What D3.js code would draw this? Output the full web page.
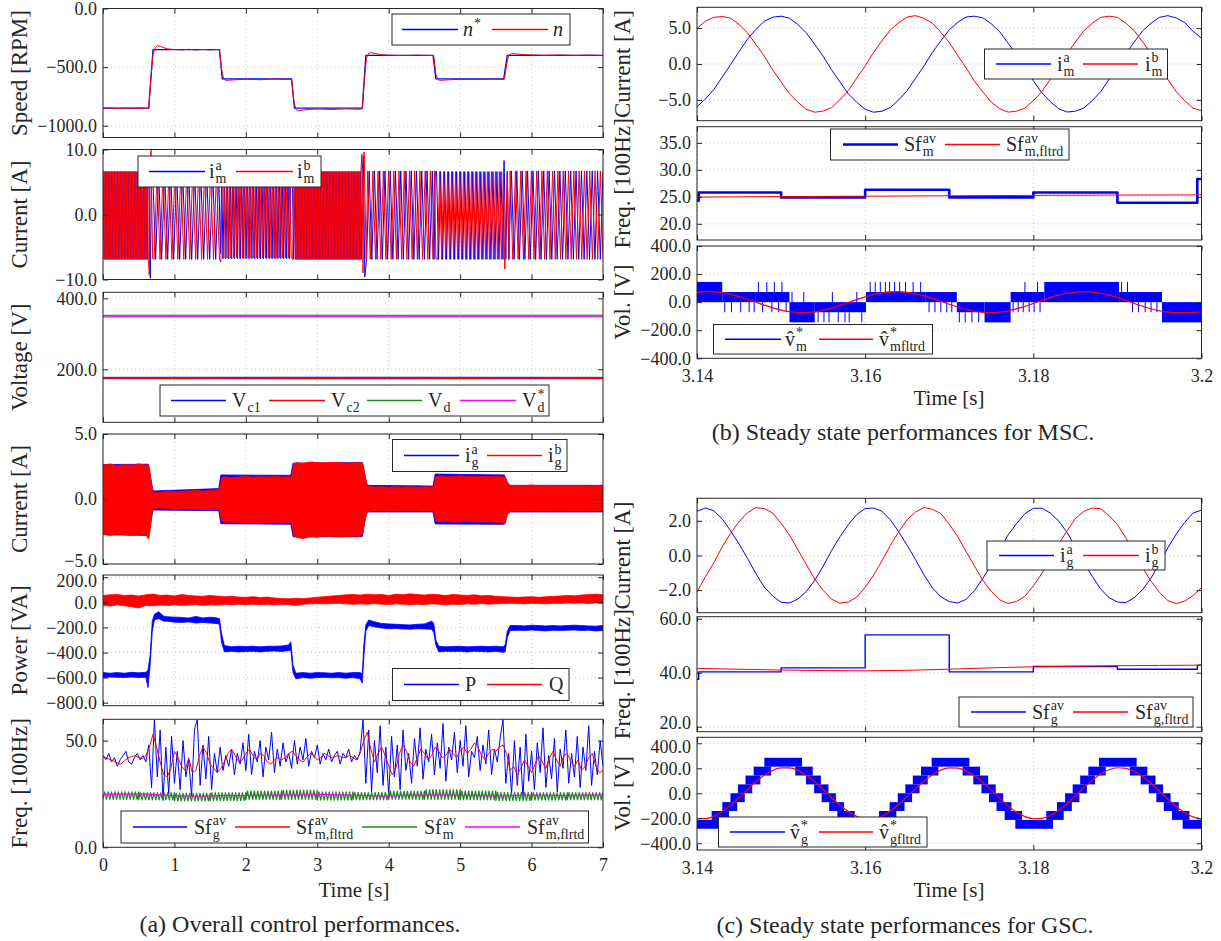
<!DOCTYPE html>
<html>
<head>
<meta charset="utf-8">
<script src="https://cdn.jsdelivr.net/npm/d3@7"></script>
<style>
  body { margin: 0; background: #fff; }
  svg { display: block; }
</style>
</head>
<body>
<svg id="fig" width="1221" height="941"></svg>
<script>
// ================= (a) overall control performances, 0 – 7 s =================
const timeTicksA = [0, 1, 2, 3, 4, 5, 6, 7];

// speed reference n* and measured speed n [RPM]
const speedRef = [[0,-850],[0.64,-850],[0.70,-350],[1.63,-350],[1.67,-600],[2.64,-600],[2.68,-850],
  [3.63,-850],[3.68,-400],[4.62,-400],[4.66,-600],[5.61,-600],[5.66,-400],[7,-400]];
const speedMeas = [[0,-850],[0.1,-847],[0.2,-853],[0.3,-848],[0.4,-852],[0.5,-847],[0.6,-851],[0.64,-850],
  [0.67,-600],[0.70,-390],[0.73,-335],[0.76,-318],[0.80,-322],[0.85,-334],[0.9,-344],[1.0,-350],[1.1,-353],
  [1.2,-348],[1.3,-354],[1.4,-349],[1.5,-353],[1.6,-350],[1.63,-352],[1.66,-520],[1.69,-602],[1.72,-613],
  [1.78,-611],[1.9,-606],[2.0,-603],[2.2,-607],[2.4,-602],[2.6,-605],[2.64,-604],[2.67,-780],[2.70,-862],
  [2.74,-873],[2.8,-866],[2.9,-860],[3.0,-857],[3.2,-861],[3.4,-856],[3.6,-859],[3.63,-855],[3.66,-600],
  [3.69,-420],[3.72,-382],[3.76,-377],[3.82,-386],[3.9,-394],[4.0,-398],[4.2,-401],[4.4,-398],[4.6,-401],
  [4.63,-402],[4.66,-560],[4.69,-606],[4.72,-613],[4.8,-610],[4.9,-606],[5.0,-604],[5.2,-606],[5.4,-603],
  [5.6,-605],[5.62,-602],[5.65,-480],[5.68,-398],[5.72,-384],[5.78,-387],[5.9,-393],[6.0,-396],[6.2,-399],
  [6.4,-396],[6.6,-400],[6.8,-397],[7.0,-400]];

// machine phase currents [A]: oscillation segments [t0, t1, first peak, second peak, peak count]
const imSegA = [[0.000,0.630,-6.9,6.6,60],[0.695,1.620,6.6,-6.9,23],[1.680,2.630,-6.8,6.5,48],
  [2.690,3.615,6.6,-6.9,90],[3.690,4.610,-6.9,6.7,26],[4.670,5.600,6.6,-6.9,34],[5.680,7.000,-6.9,6.7,36]];
const imSegB = [[0.006,0.635,6.6,-6.9,60],[0.715,1.630,-6.9,6.6,23],[1.690,2.635,6.5,-6.7,48],
  [2.696,3.610,-6.9,6.6,90],[3.705,4.620,6.7,-6.9,26],[4.685,5.605,-6.9,6.6,34],[5.700,7.000,6.7,-6.9,36]];
// transient peaks at the speed steps
const imSpikeA = [[0.645,6.4],[0.662,-9.8],[0.680,6.5],[1.645,-6.0],[1.662,6.4],[2.650,6.5],[2.670,-6.9],
  [3.630,6.8],[3.645,9.0],[3.665,-9.6],[4.635,-6.9],[4.652,6.6],[5.615,8.3],[5.640,-6.9],[5.660,6.6]];
const imSpikeB = [[0.648,-9.3],[0.658,6.0],[0.672,9.9],[0.695,-6.8],[1.650,-7.3],[1.670,6.2],[2.655,-6.9],
  [2.675,6.6],[3.625,9.3],[3.640,-9.0],[3.655,9.6],[3.685,-6.9],[4.640,6.7],[4.660,-6.8],[5.625,-8.4],
  [5.660,6.6],[5.685,-6.9]];

// dc-link voltages [V]
const vc1Band = [[0,173.5,177.5],[3.5,173.2,177.8],[7,173.5,177.4]];
const vc2Line = [[0,175.4],[1,175.1],[2,175.6],[3,175.3],[4,175.6],[5,175.2],[6,175.5],[7,175.3]];
const vdBand = [[0,346.5,353],[2,347,353.5],[4,346.5,353],[7,347,353.5]];
const vdRef = [[0,350],[7,350]];

// grid phase currents [A]: envelope rows [t, min, max]
const igBandB = [[0,-2.7,2.6],[0.1,-2.8,2.7],[0.2,-2.7,2.55],[0.3,-2.75,2.65],[0.4,-2.8,2.6],[0.5,-2.7,2.7],
  [0.6,-2.75,2.6],[0.64,-3.1,2.65],[0.66,-2.4,2.0],[0.68,-1.2,1.0],[0.71,-0.75,0.55],[0.8,-0.7,0.5],
  [0.9,-0.75,0.6],[1.0,-0.8,0.55],[1.1,-0.75,0.6],[1.2,-0.8,0.62],[1.3,-0.78,0.65],[1.4,-0.8,0.6],
  [1.5,-0.82,0.68],[1.6,-0.8,0.7],[1.63,-0.8,0.72],[1.66,-1.7,1.6],[1.7,-1.8,1.72],[1.8,-1.78,1.65],
  [1.9,-1.82,1.7],[2.0,-1.8,1.75],[2.1,-1.85,1.68],[2.2,-1.8,1.72],[2.3,-1.82,1.7],[2.4,-1.78,1.74],
  [2.5,-1.82,1.7],[2.6,-1.8,1.72],[2.64,-1.8,1.7],[2.67,-2.8,2.7],[2.7,-2.95,2.8],[2.8,-3.05,2.75],
  [2.9,-2.9,2.85],[3.0,-2.95,2.8],[3.1,-2.85,2.78],[3.2,-2.9,2.82],[3.3,-2.92,2.8],[3.4,-2.88,2.75],
  [3.5,-2.9,2.78],[3.6,-2.85,2.8],[3.64,-2.6,2.7],[3.67,-1.6,1.8],[3.7,-1.0,1.0],[3.8,-0.9,0.92],
  [3.9,-0.88,0.95],[4.0,-0.9,0.9],[4.1,-0.92,0.95],[4.2,-0.9,0.92],[4.3,-0.88,0.95],[4.4,-0.9,0.9],
  [4.5,-0.92,0.95],[4.6,-0.9,0.92],[4.63,-0.95,0.95],[4.66,-1.7,1.7],[4.7,-1.75,1.78],[4.8,-1.72,1.75],
  [4.9,-1.78,1.72],[5.0,-1.75,1.78],[5.1,-1.72,1.74],[5.2,-1.78,1.76],[5.3,-1.75,1.72],[5.4,-1.76,1.75],
  [5.5,-1.8,1.74],[5.6,-1.85,1.72],[5.63,-1.9,1.7],[5.66,-1.2,1.3],[5.7,-0.95,1.0],[5.8,-0.92,1.05],
  [5.9,-0.95,1.02],[6.0,-0.9,1.08],[6.1,-0.95,1.0],[6.2,-0.92,1.05],[6.3,-0.95,1.03],[6.4,-0.9,1.0],
  [6.5,-0.95,1.05],[6.6,-0.92,1.0],[6.7,-0.95,1.02],[6.8,-0.92,1.0],[6.9,-0.95,1.03],[7.0,-0.9,1.0]];
const igBandA = [[0,-2.75,2.65],[0.63,-2.8,2.68],[0.66,-2.2,1.9],[0.7,-0.85,0.62],[1.62,-0.9,0.8],
  [1.65,-1.9,1.85],[2.63,-1.95,1.82],[2.66,-2.9,2.75],[3.63,-2.9,2.8],[3.67,-1.5,1.7],[3.7,-1.0,1.05],
  [4.62,-1.0,1.0],[4.65,-1.92,1.92],[5.62,-1.95,1.85],[5.66,-1.2,1.25],[5.7,-1.0,1.05],[7,-1.0,1.05]];

// active / reactive power [VA]: envelope rows [t, min, max]
const pBand = [[0,-600,-560],[0.1,-595,-565],[0.2,-598,-560],[0.3,-600,-565],[0.4,-595,-558],[0.5,-600,-562],
  [0.6,-598,-558],[0.63,-680,-540],[0.66,-500,-420],[0.69,-230,-150],[0.72,-140,-95],[0.78,-130,-75],
  [0.85,-150,-110],[0.9,-150,-115],[1.0,-158,-118],[1.1,-160,-120],[1.2,-156,-125],[1.3,-165,-112],
  [1.4,-160,-125],[1.5,-165,-118],[1.6,-170,-125],[1.63,-175,-130],[1.66,-320,-250],[1.7,-395,-345],
  [1.8,-390,-355],[1.9,-395,-350],[2.0,-392,-352],[2.1,-390,-350],[2.2,-395,-355],[2.3,-390,-350],
  [2.4,-388,-350],[2.5,-392,-348],[2.6,-385,-340],[2.63,-380,-315],[2.66,-560,-500],[2.7,-610,-565],
  [2.8,-600,-560],[2.9,-605,-565],[3.0,-600,-560],[3.1,-598,-562],[3.2,-602,-565],[3.3,-600,-560],
  [3.4,-605,-565],[3.5,-600,-560],[3.6,-610,-560],[3.63,-645,-570],[3.65,-450,-350],[3.68,-230,-180],
  [3.72,-185,-140],[3.8,-195,-155],[3.9,-205,-168],[4.0,-210,-172],[4.1,-208,-175],[4.2,-212,-178],
  [4.3,-215,-180],[4.4,-210,-175],[4.5,-212,-172],[4.6,-215,-150],[4.63,-240,-165],[4.66,-340,-300],
  [4.7,-395,-350],[4.8,-390,-355],[4.9,-392,-352],[5.0,-390,-350],[5.1,-395,-355],[5.2,-390,-352],
  [5.3,-392,-350],[5.4,-395,-352],[5.5,-390,-350],[5.6,-398,-355],[5.63,-395,-340],[5.66,-280,-230],
  [5.7,-225,-185],[5.8,-222,-185],[5.9,-225,-188],[6.0,-220,-182],[6.1,-225,-185],[6.2,-228,-188],
  [6.3,-222,-185],[6.4,-225,-188],[6.5,-222,-185],[6.6,-220,-182],[6.7,-225,-185],[6.8,-222,-188],
  [6.9,-228,-190],[7.0,-225,-185]];
const qBand = [[0,-25,55],[0.1,-30,60],[0.2,-20,62],[0.3,-28,55],[0.4,-35,58],[0.5,-45,50],[0.6,-25,60],
  [0.7,-28,66],[0.8,-22,55],[0.9,-25,58],[1.0,-20,50],[1.1,-25,62],[1.2,-22,55],[1.3,-18,50],[1.4,-25,48],
  [1.5,-20,55],[1.6,-22,50],[1.7,-18,45],[1.8,-20,48],[1.9,-15,42],[2.0,-20,40],[2.1,-15,45],[2.2,-18,38],
  [2.3,-15,42],[2.4,-20,35],[2.5,-15,30],[2.6,-18,28],[2.7,-25,32],[2.8,-15,30],[2.9,-12,35],[3.0,-10,40],
  [3.1,-12,45],[3.2,-10,50],[3.3,-8,55],[3.4,-12,60],[3.5,-15,62],[3.6,-12,58],[3.7,-15,65],[3.8,-10,60],
  [3.9,-15,62],[4.0,-18,55],[4.1,-12,65],[4.2,-15,60],[4.3,-20,68],[4.4,-15,62],[4.5,-18,58],[4.6,-12,65],
  [4.7,-15,60],[4.8,-20,55],[4.9,-15,62],[5.0,-18,58],[5.1,-12,55],[5.2,-15,60],[5.3,-10,52],[5.4,-15,55],
  [5.5,-12,48],[5.6,-10,45],[5.7,-8,42],[5.8,-10,40],[5.9,-12,42],[6.0,-8,45],[6.1,-10,40],[6.2,-12,44],
  [6.3,-8,48],[6.4,-10,50],[6.5,-5,55],[6.6,-8,52],[6.7,-5,58],[6.8,-10,62],[6.9,-5,65],[7.0,-8,60]];

// average switching frequencies [100 Hz]
const sfgAvgStep = 0.04;
const sfgAvg = [43,41,44,40,42,38,41,43,45,40,39,42,44,41,43,40,
  48,28,60,33,55,22,47,25,52,30,
  45,27,50,33,41,24,55,60,29,48,32,52,27,44,35,
  47,36,43,38,46,34,44,39,49,36,
  53,34,45,40,50,33,47,41,54,35,46,38,49,40,44,37,50,39,47,41,51,38,45,42,48,
  39,44,41,46,40,43,45,39,44,42,46,40,43,41,45,
  60,30,55,26,50,35,57,29,47,24,
  52,33,48,27,55,36,44,30,51,38,56,32,46,40,53,34,49,37,58,31,47,41,54,35,50,
  38,57,33,45,42,52,36,48,39,55,34,46,40,51,
  60,30,44,25,50,29,47,23,53,31,45,
  27,49,35,56,28,43,32,51,26,46,37,55,30,44,33,52,28,47,36,57,29,45,34,50,38];
const sfmFltrdStep = 0.05;
const sfmFltrd = [42.5,42,41,40.5,39.5,39,40.5,42,42.5,43,42,41.5,43,47,53,47,40,34,33,37,
  45,42,38,36,42,35,36,43,47,44,39,37,35,37,40,44,46,43,40,41,
  44,46,43,41,44,43,40,39,41,42,41,42,44,45,43,41,40,42,44,43,
  41,42,44,43,42,42.5,43,42,42,43,42,41,44,50,54,46,40,44,47,43,
  38,34,37,44,48,45,40,38,42,46,44,41,43,47,45,42,43,46,44,42,
  45,47,44,46,49,47,43,41,44,46,45,47,48,44,36,38,34,37,41,38,
  35,39,43,40,37,42,45,41,38,43,44,40,38,41,36,38,42,44,38,35,36];
// machine-side average: oscillation segments [t0, t1, first peak, second peak, peak count]
const sfmSegs = [[0.0,0.5,22.5,26.0,22],[0.5,1.0,22.2,25.6,22],[1.0,1.5,21.7,25.4,22],[1.5,2.0,21.9,25.6,22],
  [2.0,2.5,22.3,26.4,22],[2.5,3.0,22.4,26.8,22],[3.0,3.5,22.1,26.0,22],[3.5,4.0,22.2,25.7,22],
  [4.0,4.5,22.5,26.3,22],[4.5,5.0,22.4,27.0,22],[5.0,5.5,22.2,26.4,22],[5.5,6.0,21.9,25.8,22],
  [6.0,6.5,22.1,25.6,22],[6.5,7.0,22.2,25.7,22]];
const sfmFlrtdStep = 0.25;
const sfmFlrtd = [24.8,24.9,25.0,24.7,24.2,24.0,24.1,24.3,24.2,24.4,24.6,24.5,24.8,24.7,24.4,
  24.2,24.0,24.3,24.5,24.6,24.4,24.2,24.1,24.3,24.5,24.4,24.2,24.5,24.6];

// ================= (b), (c) steady state, 3.14 – 3.20 s =================
const timeTicksR = [3.14, 3.16, 3.18, 3.2];
const steadyStep = 0.001;

// MSC phase currents [A]
const imaSteady = [-5.95,-4.88,-3.55,-1.82,-0.08,1.72,3.46,4.81,5.95,6.52,6.66,6.38,5.49,4.35,2.74,1.08,
  -0.81,-2.49,-4.15,-5.34,-6.31,-6.72,-6.58,-6.07,-4.99,-3.70,-1.97,-0.27,1.61,3.22,4.76,5.80,6.55,6.66,
  6.43,5.60,4.50,2.91,1.27,-0.62,-2.32,-3.99,-5.23,-6.22,-6.69,-6.58,-6.15,-5.11,-3.87,-2.15,-0.46,1.43,
  3.06,4.62,5.69,6.50,6.74,6.42,5.78,4.56,3.60];
const imbSteady = [4.95,5.98,6.50,6.62,6.40,5.49,4.36,2.74,1.09,-0.81,-2.49,-4.15,-5.34,-6.31,-6.72,-6.56,
  -6.08,-4.99,-3.70,-1.97,-0.27,1.62,3.23,4.76,5.79,6.55,6.74,6.36,5.68,4.42,2.99,1.19,-0.54,-2.40,-3.91,
  -5.31,-6.22,-6.70,-6.58,-6.15,-5.11,-3.87,-2.15,-0.46,1.43,3.06,4.62,5.69,6.49,6.66,6.50,5.70,4.64,3.08,
  1.44,-0.45,-2.15,-3.85,-5.11,-6.15,-6.50];

// MSC switching frequency [100 Hz]: sample-and-hold average and its filtered value
const sfmSteps = [[3.14,24.3],[3.1402,25.8],[3.15,24.9],[3.16,26.3],[3.17,24.9],[3.18,25.8],[3.19,23.9],
  [3.1995,28.3],[3.2,28.3]];
const sfmFilt = [[3.14,24.95],[3.15,25.05],[3.16,25.12],[3.17,25.2],[3.18,25.27],[3.19,25.33],[3.2,25.36]];

// MSC voltage reference [V]: switching bands [t0, t1, low level, high level] and single pulses [t, from, to]
const vmBlocks = [[3.1400,3.1430,0,144],[3.1430,3.1470,0,72],[3.1470,3.1510,0,72],[3.1510,3.1540,-144,0],
  [3.1540,3.1601,-72,0],[3.1601,3.1672,0,72],[3.1672,3.1709,0,72],[3.1709,3.1742,-72,0],
  [3.1742,3.1773,-144,0],[3.1773,3.1813,0,72],[3.1813,3.1902,0,144],[3.1902,3.1953,0,72],[3.1953,3.2000,-144,0]];
const vmPulses = [[3.1433,0,-72],[3.1441,0,-72],[3.1452,0,-72],[3.1462,0,-72],[3.1468,0,-72],
  [3.1473,72,144],[3.1478,0,-72],[3.1483,72,144],[3.1489,0,-72],[3.1492,72,144],[3.1497,0,-72],
  [3.1501,72,144],[3.1506,0,-72],[3.1513,0,72],[3.1527,0,72],[3.1544,-72,-144],[3.1551,-72,-144],
  [3.1557,-72,-144],[3.1561,0,72],[3.1568,-72,-144],[3.1576,-72,-144],[3.1581,-72,-144],[3.1590,0,72],
  [3.1596,-72,-144],[3.1606,72,144],[3.1612,72,144],[3.1618,72,144],[3.1624,72,144],[3.1629,72,144],
  [3.1635,72,144],[3.1641,72,144],[3.1648,72,144],[3.1657,72,144],[3.1666,72,144],[3.1676,0,-72],
  [3.1683,0,-72],[3.1690,0,-72],[3.1697,0,-72],[3.1703,0,-72],[3.1712,-72,-144],[3.1719,-72,-144],
  [3.1727,-72,-144],[3.1735,-72,-144],[3.1776,0,-72],[3.1782,0,-72],[3.1788,0,-72],[3.1790,72,144],
  [3.1795,0,-72],[3.1801,0,-72],[3.1805,72,144],[3.1808,0,-72],[3.1905,72,144],[3.1912,72,144],
  [3.1918,0,-72],[3.1925,0,-72],[3.1933,0,-72],[3.1940,0,-72],[3.1947,0,-72]];
const vmFltrd = [69.2,74.5,73.9,67.5,55.7,39.6,20.4,-0.5,-21.3,-40.5,-56.4,-67.9,-74.1,-74.4,-68.8,-57.9,
  -42.4,-23.4,-2.7,18.3,37.7,54.3,66.5,73.5,74.7,70.1,59.8,44.9,26.5,6.0,-15.0,-34.9,-52.1,-65.0,-72.9,
  -75.0,-71.2,-61.8,-47.9,-30.4,-9.1,12.0,32.1,49.6,63.3,72.0,75.0,72.1,63.5,49.9,32.4,12.4,-8.8,-29.1,
  -47.2,-61.5,-71.0,-74.9,-74.5,-73.0,-70.0];

// GSC phase currents [A]
const igaSteady = [2.55,2.74,2.58,2.11,1.42,0.67,-0.16,-1.04,-1.82,-2.34,-2.70,-2.74,-2.51,-2.08,-1.44,
  -0.62,0.28,1.08,1.78,2.36,2.71,2.74,2.55,2.06,1.36,0.58,-0.25,-1.12,-1.87,-2.38,-2.66,-2.74,-2.53,-2.03,
  -1.31,-0.54,0.33,1.19,1.84,2.41,2.72,2.73,2.46,2.00,1.34,0.50,-0.40,-1.20,-1.93,-2.43,-2.68,-2.72,-2.44,
  -1.97,-1.30,-0.45,0.44,1.24,1.91,2.45,2.62];
const igbSteady = [-2.10,-1.22,-0.42,0.50,1.29,1.95,2.47,2.76,2.71,2.45,1.86,1.18,0.33,-0.52,-1.36,-2.01,
  -2.52,-2.75,-2.68,-2.40,-1.83,-1.14,-0.31,0.59,1.37,2.07,2.51,2.77,2.66,2.42,1.80,1.10,0.23,-0.60,-1.44,
  -2.07,-2.56,-2.77,-2.65,-2.35,-1.76,-1.05,-0.24,0.65,1.42,2.13,2.55,2.74,2.70,2.30,1.79,1.02,0.17,-0.72,
  -1.48,-2.13,-2.60,-2.78,-2.63,-2.31,-1.86];

// GSC switching frequency [100 Hz]
const sfgSteps = [[3.14,37.6],[3.1402,40.3],[3.15,41.8],[3.16,54.0],[3.17,40.3],[3.18,42.3],[3.19,41.3],
  [3.1995,42.8],[3.2,42.8]];
const sfgFilt = [[3.14,41.6],[3.145,41.3],[3.15,41.0],[3.155,40.8],[3.16,40.7],[3.165,40.9],[3.17,41.3],
  [3.175,41.8],[3.18,42.2],[3.185,42.4],[3.19,42.6],[3.195,42.7],[3.2,42.8]];

// GSC voltage reference [V]: switching bands [t0, t1, low level, high level]
const vgBlocks = [[3.1400,3.14254,-284,-213],[3.14174,3.14381,-213,-142],[3.14301,3.14478,-142,-71],
  [3.14398,3.14568,-71,0],[3.14488,3.14657,0,71],[3.14577,3.14754,71,142],[3.14674,3.14881,142,213],
  [3.14801,3.15249,213,284],[3.15169,3.15376,142,213],[3.15296,3.15473,71,142],[3.15393,3.15563,0,71],
  [3.15483,3.15652,-71,0],[3.15572,3.15749,-142,-71],[3.15669,3.15876,-213,-142],[3.15796,3.16244,-284,-213],
  [3.16164,3.16371,-213,-142],[3.16291,3.16468,-142,-71],[3.16388,3.16558,-71,0],[3.16478,3.16647,0,71],
  [3.16567,3.16744,71,142],[3.16664,3.16871,142,213],[3.16791,3.17239,213,284],[3.17159,3.17366,142,213],
  [3.17286,3.17463,71,142],[3.17383,3.17553,0,71],[3.17473,3.17642,-71,0],[3.17562,3.17739,-142,-71],
  [3.17659,3.17866,-213,-142],[3.17786,3.18234,-284,-213],[3.18154,3.18361,-213,-142],[3.18281,3.18458,-142,-71],
  [3.18378,3.18548,-71,0],[3.18468,3.18637,0,71],[3.18557,3.18734,71,142],[3.18654,3.18861,142,213],
  [3.18781,3.19229,213,284],[3.19149,3.19356,142,213],[3.19276,3.19453,71,142],[3.19373,3.19543,0,71],
  [3.19463,3.19632,-71,0],[3.19552,3.19729,-142,-71],[3.19649,3.19856,-213,-142],[3.19776,3.2000,-284,-213]];
const vgFltrd = [-201.9,-203.0,-184.0,-146.8,-95.0,-33.8,30.7,92.1,144.5,182.5,202.5,202.5,182.5,144.5,92.1,
  30.7,-33.8,-95.0,-146.8,-184.0,-203.0,-201.9,-181.0,-142.1,-89.2,-27.5,37.0,97.8,149.0,185.4,203.4,201.3,
  179.3,139.9,86.3,24.2,-40.3,-100.7,-151.1,-186.6,-203.9,-200.7,-177.6,-137.2,-83.4,-20.9,43.3,103.5,153.4,
  188.0,204.1,200.0,176.1,135.1,80.4,17.9,-46.5,-106.2,-155.5,-189.3,-204.4];

// ================= drawing =================
const svg = d3.select('#fig');
const FONT = '"Liberation Serif", "Times New Roman", serif';
const INK = '#262626';
const BLUE = '#0000ff', RED = '#ff0000', GREEN = '#1a8a1a', MAGENTA = '#ff00ff';
const fmt1 = d3.format('.1f');
const TICK_FS = 18, LABEL_FS = 23;

const xA = d3.scaleLinear().domain([0, 7]).range([103, 603]);
const xR = d3.scaleLinear().domain([3.14, 3.2]).range([697, 1201.5]);

let clipCount = 0;
function panel(o) {
  const x = o.x;
  const y = d3.scaleLinear().domain(o.domain).range([o.bottom, o.top]);
  const [x0, x1] = x.range();
  const root = svg.append('g');
  const cid = 'clip' + (clipCount++);
  root.append('clipPath').attr('id', cid).append('rect')
    .attr('x', x0).attr('y', o.top).attr('width', x1 - x0).attr('height', o.bottom - o.top);
  const grid = root.append('g').attr('stroke', '#bdbdbd').attr('stroke-width', 0.8)
    .attr('stroke-dasharray', '1.2,2.8');
  o.xTicks.forEach(t => grid.append('line').attr('x1', x(t)).attr('x2', x(t)).attr('y1', o.top).attr('y2', o.bottom));
  o.yTicks.forEach(v => grid.append('line').attr('x1', x0).attr('x2', x1).attr('y1', y(v)).attr('y2', y(v)));
  const data = root.append('g').attr('clip-path', `url(#${cid})`);
  const frame = root.append('g');

  const style = sel => {
    sel.select('.domain').remove();
    sel.selectAll('line').attr('stroke', INK);
    sel.selectAll('text').attr('font-family', FONT).attr('font-size', TICK_FS).attr('fill', INK);
  };
  const leftAxis = frame.append('g').attr('transform', `translate(${x0},0)`)
    .call(d3.axisLeft(y).tickValues(o.yTicks).tickFormat(fmt1).tickSizeInner(-5).tickSizeOuter(0).tickPadding(6))
    .call(style);
  // labels sitting against a neighbouring panel's label get a small vertical shift
  if (o.labelShift) {
    leftAxis.selectAll('.tick').each(function (v) {
      if (o.labelShift[v]) d3.select(this).select('text').attr('y', o.labelShift[v]);
    });
  }
  frame.append('g').attr('transform', `translate(${x1},0)`)
    .call(d3.axisRight(y).tickValues(o.yTicks).tickFormat('').tickSizeInner(-5).tickSizeOuter(0))
    .call(style);
  frame.append('g').attr('transform', `translate(0,${o.top})`)
    .call(d3.axisTop(x).tickValues(o.xTicks).tickFormat('').tickSizeInner(-5).tickSizeOuter(0))
    .call(style);
  frame.append('g').attr('transform', `translate(0,${o.bottom})`)
    .call(d3.axisBottom(x).tickValues(o.xTicks).tickFormat(o.xLabels ? o.xFormat : '')
      .tickSizeInner(-5).tickSizeOuter(0).tickPadding(11))
    .call(style);
  frame.append('rect').attr('x', x0).attr('y', o.top).attr('width', x1 - x0).attr('height', o.bottom - o.top)
    .attr('fill', 'none').attr('stroke', INK).attr('stroke-width', 1);

  svg.append('text').attr('transform', `translate(${o.labelX},${(o.top + o.bottom) / 2}) rotate(-90)`)
    .attr('text-anchor', 'middle').attr('dominant-baseline', 'central')
    .attr('font-family', FONT).attr('font-size', LABEL_FS).attr('fill', INK).text(o.label);
  return { x, y, data };
}

function line(p, pts, color, w, curve) {
  p.data.append('path').datum(pts).attr('fill', 'none').attr('stroke', color)
    .attr('stroke-width', w || 1).attr('stroke-linejoin', 'round')
    .attr('d', d3.line().x(d => p.x(d[0])).y(d => p.y(d[1])).curve(curve || d3.curveLinear));
}
function band(p, rows, color) {
  p.data.append('path').datum(rows).attr('fill', color).attr('stroke', color).attr('stroke-width', 0.8)
    .attr('d', d3.area().x(d => p.x(d[0])).y0(d => p.y(d[1])).y1(d => p.y(d[2])));
}
function blocks(p, rows, color) {
  p.data.append('g').selectAll('rect').data(rows).join('rect')
    .attr('x', d => p.x(d[0])).attr('width', d => p.x(d[1]) - p.x(d[0]))
    .attr('y', d => p.y(d[3])).attr('height', d => p.y(d[2]) - p.y(d[3])).attr('fill', color);
}
function pulses(p, rows, color) {
  p.data.append('g').selectAll('line').data(rows).join('line')
    .attr('x1', d => p.x(d[0])).attr('x2', d => p.x(d[0]))
    .attr('y1', d => p.y(d[1])).attr('y2', d => p.y(d[2])).attr('stroke', color).attr('stroke-width', 1);
}
// sampled values -> [t, v]
const sampled = (vals, t0, dt) => vals.map((v, i) => [t0 + i * dt, v]);
// oscillation segments + transient peaks -> ordered vertices
function oscillation(segs, peaks) {
  const pts = [];
  segs.forEach(([t0, t1, v0, v1, n]) => {
    for (let i = 0; i < n; i++) pts.push([t0 + (t1 - t0) * i / (n - 1), i % 2 ? v1 : v0]);
  });
  return pts.concat(peaks || []).sort((a, b) => a[0] - b[0]);
}

function mathText(g, x, y, m) {
  const base = g.append('text').attr('x', x).attr('y', y).attr('font-family', FONT).attr('font-size', 20)
    .attr('fill', INK).style('font-style', m.it ? 'italic' : null).text(m.b);
  const w = base.node().getComputedTextLength();
  if (m.sup) g.append('text').attr('x', x + w + 1).attr('y', y - 8.5).attr('font-family', FONT)
    .attr('font-size', 14).attr('fill', INK).text(m.sup);
  if (m.sub) g.append('text').attr('x', x + w + 1).attr('y', y + 5).attr('font-family', FONT)
    .attr('font-size', 14).attr('fill', INK).text(m.sub);
}
function legend(box, items) {
  const [bx0, by0, bx1, by1] = box;
  const g = svg.append('g');
  g.append('rect').attr('x', bx0).attr('y', by0).attr('width', bx1 - bx0).attr('height', by1 - by0)
    .attr('fill', '#ffffff').attr('stroke', INK).attr('stroke-width', 1);
  const cy = (by0 + by1) / 2;
  items.forEach(it => {
    g.append('path').attr('d', `M${it.l[0]},${cy}H${it.l[1]}`).attr('fill', 'none')
      .style('stroke', it.c).style('stroke-width', it.w || 1.3);
    mathText(g, it.tx, cy + 6.5, it.m);
  });
}
function caption(x, y, str, fs) {
  svg.append('text').attr('x', x).attr('y', y).attr('text-anchor', 'middle').attr('font-family', FONT)
    .attr('font-size', fs).attr('fill', INK).text(str);
}

const fmtInt = d3.format('d');
const fmtT = d => String(+d.toFixed(2));
const LX = 19, RX = 622;

// ---- (a1) speed
const a1 = panel({ x: xA, top: 8.5, bottom: 137.5, domain: [-1100, 0], yTicks: [-1000, -500, 0], xTicks: timeTicksA, label: 'Speed [RPM]', labelX: LX });
line(a1, speedRef, BLUE, 1.3);
line(a1, speedMeas, RED, 1);
legend([392, 14, 570, 45], [
  { c: BLUE, l: [402, 458], tx: 463, m: { b: 'n', sup: '*', it: true } },
  { c: RED, l: [492, 548], tx: 553, m: { b: 'n', it: true } }]);

// ---- (a2) machine currents
const a2 = panel({ x: xA, top: 149.5, bottom: 279.5, domain: [-10, 10], yTicks: [-10, 0, 10], xTicks: timeTicksA, label: 'Current [A]', labelX: LX });
line(a2, oscillation(imSegA, imSpikeA), BLUE, 1);
line(a2, oscillation(imSegB, imSpikeB), RED, 1);
legend([138, 156, 321, 187], [
  { c: BLUE, l: [149, 205], tx: 209, m: { b: 'i', sup: 'a', sub: 'm' } },
  { c: RED, l: [236, 293], tx: 297, m: { b: 'i', sup: 'b', sub: 'm' } }]);

// ---- (a3) dc-link voltages
const a3 = panel({ x: xA, top: 292.3, bottom: 422.3, domain: [50.7, 417], yTicks: [200, 400], xTicks: timeTicksA, label: 'Voltage [V]', labelX: LX });
band(a3, vc1Band, BLUE);
line(a3, vc2Line, RED, 1.6);
band(a3, vdBand, '#8fa88f');
line(a3, vdRef, MAGENTA, 1.5);
legend([160, 385, 549, 416], [
  { c: BLUE, l: [171, 226], tx: 232, m: { b: 'V', sub: 'c1' } },
  { c: RED, l: [269, 325], tx: 331, m: { b: 'V', sub: 'c2' } },
  { c: GREEN, l: [367, 422], tx: 428, m: { b: 'V', sub: 'd' } },
  { c: MAGENTA, l: [460, 516], tx: 522, m: { b: 'V', sup: '*', sub: 'd' } }]);

// ---- (a4) grid currents
const a4 = panel({ x: xA, top: 434, bottom: 564, domain: [-5, 5], yTicks: [-5, 0, 5], xTicks: timeTicksA, label: 'Current [A]', labelX: LX, labelShift: { '-5': -3.5 } });
band(a4, igBandA, BLUE);
band(a4, igBandB, RED);
legend([392.5, 439.5, 567, 471.5], [
  { c: BLUE, l: [404, 459], tx: 465, m: { b: 'i', sup: 'a', sub: 'g' } },
  { c: RED, l: [487, 542], tx: 548, m: { b: 'i', sup: 'b', sub: 'g' } }]);

// ---- (a5) power
const a5 = panel({ x: xA, top: 575, bottom: 705.7, domain: [-824, 218], yTicks: [-800, -600, -400, -200, 0, 200], xTicks: timeTicksA, label: 'Power [VA]', labelX: LX, labelShift: { '200': 3 } });
band(a5, qBand, RED);
band(a5, pBand, BLUE);
legend([392.5, 668.5, 569, 700.5], [
  { c: BLUE, l: [404, 459], tx: 465, m: { b: 'P' } },
  { c: RED, l: [487, 542], tx: 549, m: { b: 'Q' } }]);

// ---- (a6) switching frequencies
const a6 = panel({ x: xA, top: 719.3, bottom: 847.3, domain: [0, 60], yTicks: [0, 50], xTicks: timeTicksA, xLabels: true, xFormat: fmtInt, label: 'Freq. [100Hz]', labelX: LX });
line(a6, sampled(sfgAvg, 0, sfgAvgStep), BLUE, 1);
line(a6, sampled(sfmFltrd, 0, sfmFltrdStep), RED, 1);
line(a6, oscillation(sfmSegs), GREEN, 1.2);
line(a6, sampled(sfmFlrtd, 0, sfmFlrtdStep), MAGENTA, 1.2, d3.curveMonotoneX);
legend([121, 811, 588.5, 843], [
  { c: BLUE, l: [133, 187], tx: 194, m: { b: 'Sf', sup: 'av', sub: 'g' } },
  { c: RED, l: [235, 290], tx: 296, m: { b: 'Sf', sup: 'av', sub: 'm,fltrd' } },
  { c: GREEN, l: [362, 417], tx: 424, m: { b: 'Sf', sup: 'av', sub: 'm' } },
  { c: MAGENTA, l: [465, 520], tx: 527, m: { b: 'Sf', sup: 'av', sub: 'm,flrtd' } }]);
caption(354, 897, 'Time [s]', 21);
caption(300, 932, '(a) Overall control performances.', 24);

// ---- (b1) MSC currents
const b1 = panel({ x: xR, top: 7.3, bottom: 120.7, domain: [-7.9, 7.9], yTicks: [-5, 0, 5], xTicks: timeTicksR, label: 'Current [A]', labelX: RX });
line(b1, sampled(imaSteady, 3.14, steadyStep), BLUE, 1);
line(b1, sampled(imbSteady, 3.14, steadyStep), RED, 1);
legend([984.5, 49, 1167.5, 79], [
  { c: BLUE, l: [996, 1051], tx: 1057, m: { b: 'i', sup: 'a', sub: 'm' } },
  { c: RED, l: [1083, 1138], tx: 1145, m: { b: 'i', sup: 'b', sub: 'm' } }]);

// ---- (b2) MSC switching frequency
const b2 = panel({ x: xR, top: 126.7, bottom: 240, domain: [17, 38], yTicks: [20, 25, 30, 35], xTicks: timeTicksR, label: 'Freq. [100Hz]', labelX: RX });
line(b2, sfmSteps, BLUE, 2.6, d3.curveStepAfter);
line(b2, sfmFilt, RED, 1);
legend([830.5, 129, 1069, 160], [
  { c: BLUE, l: [843, 898], tx: 904, w: 2.6, m: { b: 'Sf', sup: 'av', sub: 'm' } },
  { c: RED, l: [945, 1000], tx: 1006, m: { b: 'Sf', sup: 'av', sub: 'm,fltrd' } }]);

// ---- (b3) MSC voltage reference
const b3 = panel({ x: xR, top: 246, bottom: 358.3, domain: [-400, 400], yTicks: [-400, -200, 0, 200, 400], xTicks: timeTicksR, xLabels: true, xFormat: fmtT, label: 'Vol. [V]', labelX: RX });
blocks(b3, vmBlocks, BLUE);
pulses(b3, vmPulses, BLUE);
line(b3, sampled(vmFltrd, 3.14, steadyStep), RED, 1.2, d3.curveMonotoneX);
legend([713.5, 324.5, 932.5, 354], [
  { c: BLUE, l: [725, 781], tx: 785, m: { b: 'v\u0302', sup: '*', sub: 'm' } },
  { c: RED, l: [819, 873], tx: 879, m: { b: 'v\u0302', sup: '*', sub: 'mfltrd' } }]);
caption(949, 405, 'Time [s]', 21);
caption(903, 440, '(b) Steady state performances for MSC.', 24);

// ---- (c1) GSC currents
const c1 = panel({ x: xR, top: 498.3, bottom: 612.7, domain: [-3.3, 3.3], yTicks: [-2, 0, 2], xTicks: timeTicksR, label: 'Current [A]', labelX: RX });
line(c1, sampled(igaSteady, 3.14, steadyStep), BLUE, 1);
line(c1, sampled(igbSteady, 3.14, steadyStep), RED, 1);
legend([987, 541, 1165, 570], [
  { c: BLUE, l: [999, 1054], tx: 1060, m: { b: 'i', sup: 'a', sub: 'g' } },
  { c: RED, l: [1083, 1139], tx: 1145, m: { b: 'i', sup: 'b', sub: 'g' } }]);

// ---- (c2) GSC switching frequency
const c2 = panel({ x: xR, top: 616.7, bottom: 731.7, domain: [18.15, 60.75], yTicks: [20, 40, 60], xTicks: timeTicksR, label: 'Freq. [100Hz]', labelX: RX, labelShift: { '20': -3.5 } });
line(c2, sfgSteps, BLUE, 1.4, d3.curveStepAfter);
line(c2, sfgFilt, RED, 1);
legend([959, 697, 1193, 727], [
  { c: BLUE, l: [971, 1026], tx: 1032, m: { b: 'Sf', sup: 'av', sub: 'g' } },
  { c: RED, l: [1073, 1128], tx: 1135, m: { b: 'Sf', sup: 'av', sub: 'g,fltrd' } }]);

// ---- (c3) GSC voltage reference
const c3 = panel({ x: xR, top: 737.3, bottom: 850, domain: [-454, 448], yTicks: [-400, -200, 0, 200, 400], xTicks: timeTicksR, xLabels: true, xFormat: fmtT, label: 'Vol. [V]', labelX: RX, labelShift: { '400': 3 } });
blocks(c3, vgBlocks, BLUE);
line(c3, sampled(vgFltrd, 3.14, steadyStep), RED, 1.2, d3.curveMonotoneX);
legend([718.5, 817, 927, 847], [
  { c: BLUE, l: [730, 785], tx: 790, m: { b: 'v\u0302', sup: '*', sub: 'g' } },
  { c: RED, l: [819, 873], tx: 879, m: { b: 'v\u0302', sup: '*', sub: 'gfltrd' } }]);
caption(949, 897, 'Time [s]', 21);
caption(905, 933, '(c) Steady state performances for GSC.', 24);
</script>
</body>
</html>
